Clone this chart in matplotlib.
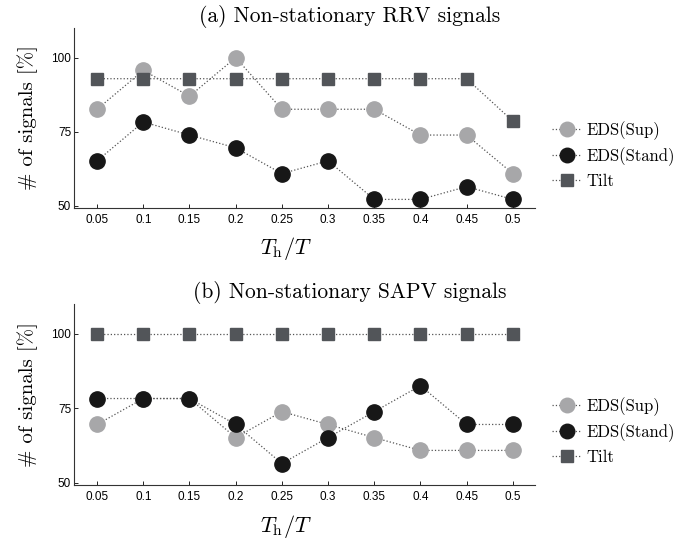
import numpy as np
import matplotlib
matplotlib.use("Agg")
from matplotlib import pyplot as plt

# data
th_ratio = [0.05, 0.1, 0.15, 0.2, 0.25, 0.3, 0.35, 0.4, 0.45, 0.5]
tick_labels = ["0.05", "0.1", "0.15", "0.2", "0.25", "0.3", "0.35", "0.4", "0.45", "0.5"]

rrv_sup = [82.6, 95.7, 87.0, 100.0, 82.6, 82.6, 82.6, 73.9, 73.9, 60.9]
rrv_stand = [65.2, 78.3, 73.9, 69.6, 60.9, 65.2, 52.2, 52.2, 56.5, 52.2]
rrv_tilt = [92.9, 92.9, 92.9, 92.9, 92.9, 92.9, 92.9, 92.9, 92.9, 78.6]

sapv_sup = [69.6, 78.3, 78.3, 65.2, 73.9, 69.6, 65.2, 60.9, 60.9, 60.9]
sapv_stand = [78.3, 78.3, 78.3, 69.6, 56.5, 65.2, 73.9, 82.6, 69.6, 69.6]
sapv_tilt = [100, 100, 100, 100, 100, 100, 100, 100, 100, 100]

titles = ["(a) Non-stationary RRV signals", "(b) Non-stationary SAPV signals"]
series_names = ["EDS(Sup)", "EDS(Stand)", "Tilt"]
yticks = [50, 75, 100]

panels = [(rrv_sup, rrv_stand, rrv_tilt), (sapv_sup, sapv_stand, sapv_tilt)]

serif = ["cmr10", "DejaVu Serif"]
plt.rcParams["mathtext.fontset"] = "cm"

W, H = 682.0, 545.0
fig = plt.figure(figsize=(6.82, 5.45), dpi=100)

# pixel boxes (left, top, right, bottom) of the two axes
boxes = [(74, 28, 535, 208), (74, 304, 535, 485)]

colors = ["#a7a7a9", "#171717", "#525559"]
markers = ["o", "o", "s"]
msizes = [11, 11, 8.8]

for i in range(2):
    l, t, r, b = boxes[i]
    ax = fig.add_axes([l / W, 1 - b / H, (r - l) / W, (b - t) / H])
    for j in range(3):
        ax.plot(th_ratio, panels[i][j], linestyle=":", color="#555555", linewidth=0.9,
                marker=markers[j], markersize=msizes[j], markerfacecolor=colors[j],
                markeredgecolor=colors[j], label=series_names[j])
    ax.set_xlim(0.025, 0.524)
    ax.set_ylim(49.3, 110)
    ax.set_xticks(th_ratio)
    ax.set_xticklabels(tick_labels, family="Liberation Sans", fontsize=8.5)
    ax.set_yticks(yticks)
    ax.set_yticklabels([str(v) for v in yticks], family="Liberation Sans", fontsize=8.5)
    ax.tick_params(direction="in", length=3, width=0.6)
    ax.tick_params(axis="x", pad=4)
    ax.tick_params(axis="y", pad=2)
    ax.spines["top"].set_visible(False)
    ax.spines["right"].set_visible(False)
    for s in ["left", "bottom"]:
        ax.spines[s].set_linewidth(0.8)
        ax.spines[s].set_color("#333333")

    # title, axis labels
    fig.text(350 / W, 1 - (t - 11) / H, titles[i], family=serif, fontsize=15.5,
             ha="center", va="center")
    fig.text(28 / W, 1 - (t + b) / 2 / H, "# of signals [%]", family=serif, fontsize=15,
             rotation=90, ha="center", va="center")
    fig.text(286 / W, 1 - (b + 41) / H, r"$T_\mathrm{h}/T$", fontsize=16,
             ha="center", va="center")

    leg_y = t + 127
    ax.legend(loc="center left", bbox_to_anchor=(552 / W, 1 - leg_y / H),
              bbox_transform=fig.transFigure, frameon=False, borderpad=0,
              borderaxespad=0, handlelength=1.75, handletextpad=0.3,
              labelspacing=0.45, prop={"family": serif, "size": 12},
              markerscale=0.95)

fig.savefig("out.png", dpi=100)
